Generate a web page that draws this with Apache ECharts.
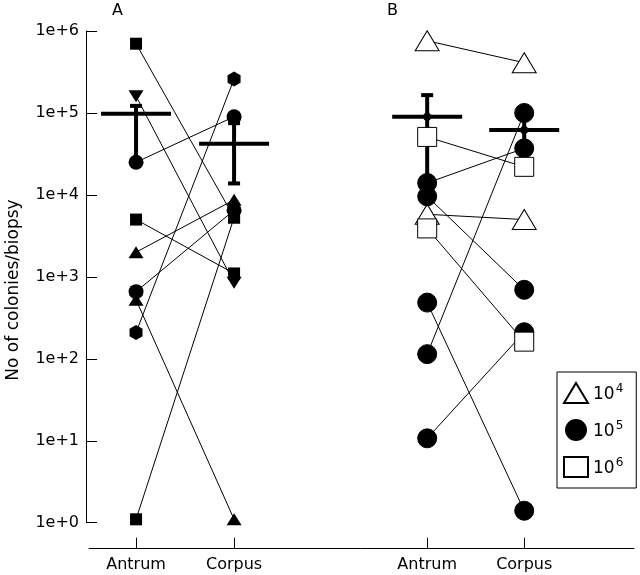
<!DOCTYPE html>
<html><head><meta charset="utf-8">
<script src="https://cdn.jsdelivr.net/npm/echarts@6/dist/echarts.min.js"></script>
<style>html,body{margin:0;padding:0;background:#fff}#c{width:640px;height:575px}</style>
</head><body><div id="c"></div>
<script>
// ---- data ----
const siteLabels = ['Antrum', 'Corpus', 'Antrum', 'Corpus'];
const yTickValues = [1, 10, 100, 1000, 10000, 100000, 1000000];
const yTickLabels = ['1e+0', '1e+1', '1e+2', '1e+3', '1e+4', '1e+5', '1e+6'];
const panelLabels = ['A', 'B'];
const yAxisTitle = 'No of colonies/biopsy';

// Panel A: one entry per animal (antrum value, corpus value, marker shape)
const panelAShape  = ['square', 'triangleDown', 'circle', 'square', 'triangle', 'circle', 'triangle', 'hexagon', 'square'];
const panelAAntrum = [700000, 160000, 25000, 5000, 2000, 660, 525, 210, 1.1];
const panelACorpus = [5300, 850, 90000, 1100, 8700, 6500, 1.1, 260000, 5300];
// mean, lower, upper
const panelAMeanAntrum = [98000, 26000, 122000];
const panelAMeanCorpus = [42000, 13800, 75000];

// Panel B: inoculum dose groups
const doseNames = ['10^4', '10^5', '10^6'];
const panelBDose   = ['10^4', '10^6', '10^5', '10^5', '10^4', '10^6', '10^5', '10^5', '10^5'];
const panelBAntrum = [760000, 51000, 14000, 9600, 5800, 3900, 485, 114, 10.7];
const panelBCorpus = [410000, 22000, 37000, 695, 5000, 162, 1.4, 100000, 211];
const panelBMeanAntrum = [90000, 14500, 165000];
const panelBMeanCorpus = [62000, 39000, 96000];

// ---- layout (positions on the x scale) ----
const xPos = [1, 2, 3.97, 4.96];
const FONT = 'DejaVu Sans';

const symA = {
  square: {symbol: 'rect', size: 12, rot: 0},
  circle: {symbol: 'circle', size: 15, rot: 0},
  triangle: {symbol: 'triangle', size: [15, 12], rot: 0},
  triangleDown: {symbol: 'triangle', size: [15, 12], rot: 180},
  hexagon: {symbol: 'path://M0,-1 L0.866,-0.5 L0.866,0.5 L0,1 L-0.866,0.5 L-0.866,-0.5 Z', size: [13, 15], rot: 0}
};
const symB = {
  '10^4': {symbol: 'triangle', size: [24, 20], fill: '#fff'},
  '10^5': {symbol: 'circle', size: 19, fill: '#000'},
  '10^6': {symbol: 'rect', size: 19, fill: '#fff'}
};

const series = [];
// connecting lines
function addLines(antrum, corpus, x0, x1) {
  antrum.forEach((v, i) => {
    series.push({
      type: 'line', data: [[x0, v], [x1, corpus[i]]], symbol: 'none', silent: true,
      lineStyle: {color: '#000', width: 1}, z: 1, animation: false
    });
  });
}
addLines(panelAAntrum, panelACorpus, xPos[0], xPos[1]);
addLines(panelBAntrum, panelBCorpus, xPos[2], xPos[3]);

// mean and error bars
const meanData = [
  [xPos[0]].concat(panelAMeanAntrum),
  [xPos[1]].concat(panelAMeanCorpus),
  [xPos[2]].concat(panelBMeanAntrum),
  [xPos[3]].concat(panelBMeanCorpus)
];
series.push({
  type: 'custom', z: 2, animation: false, silent: true,
  data: meanData,
  encode: {x: 0, y: [1, 2, 3]},
  renderItem: function (params, api) {
    const x = api.value(0);
    const pm = api.coord([x, api.value(1)]);
    const pl = api.coord([x, api.value(2)]);
    const ph = api.coord([x, api.value(3)]);
    const st = {stroke: '#000', lineWidth: 4};
    const ch = [
      {type: 'line', shape: {x1: pl[0], y1: pl[1], x2: ph[0], y2: ph[1]}, style: st},
      {type: 'line', shape: {x1: pm[0] - 35, y1: pm[1], x2: pm[0] + 35, y2: pm[1]}, style: st},
      {type: 'line', shape: {x1: ph[0] - 6, y1: ph[1], x2: ph[0] + 6, y2: ph[1]}, style: st},
      {type: 'line', shape: {x1: pl[0] - 6, y1: pl[1], x2: pl[0] + 6, y2: pl[1]}, style: st}
    ];
    if (params.dataIndex >= 2) {
      ch.push({type: 'circle', shape: {cx: pm[0], cy: pm[1], r: 4}, style: {fill: '#000'}});
    }
    return {type: 'group', children: ch};
  }
});

// panel A markers
const dataA = [];
panelAShape.forEach((s, i) => {
  const m = symA[s];
  dataA.push({value: [xPos[0], panelAAntrum[i]], symbol: m.symbol, symbolSize: m.size, symbolRotate: m.rot});
  dataA.push({value: [xPos[1], panelACorpus[i]], symbol: m.symbol, symbolSize: m.size, symbolRotate: m.rot});
});
series.push({
  type: 'scatter', name: 'A', data: dataA, z: 3, animation: false,
  itemStyle: {color: '#000', opacity: 1}
});

// panel B markers by dose
doseNames.forEach(d => {
  const pts = [];
  panelBDose.forEach((g, i) => {
    if (g === d) {
      pts.push([xPos[2], panelBAntrum[i]]);
      pts.push([xPos[3], panelBCorpus[i]]);
    }
  });
  series.push({
    type: 'scatter', name: d, data: pts, z: 3, animation: false,
    symbol: symB[d].symbol, symbolSize: symB[d].size,
    itemStyle: {color: symB[d].fill, borderColor: '#000', borderWidth: 1, opacity: 1}
  });
});

const chart = echarts.init(document.getElementById('c'), null, {renderer: 'canvas'});
chart.setOption({
  backgroundColor: '#fff',
  animation: false,
  textStyle: {fontFamily: FONT},
  grid: {left: 89, right: 6, top: 31, bottom: 52.3},
  xAxis: {
    type: 'value', min: 0.52, max: 6.08, offset: 26,
    splitLine: {show: false},
    axisLine: {show: true, lineStyle: {color: '#000', width: 1}},
    axisTick: {show: true, inside: true, length: 11, customValues: xPos, lineStyle: {color: '#000'}},
    axisLabel: {
      customValues: xPos, margin: 8, color: '#000', fontSize: 16, fontFamily: FONT,
      formatter: v => siteLabels[xPos.indexOf(v)] || ''
    }
  },
  yAxis: {
    type: 'log', logBase: 10, min: 1, max: 1000000, offset: 3,
    splitLine: {show: false},
    axisLine: {show: true, lineStyle: {color: '#000', width: 1}},
    axisTick: {show: true, inside: true, length: 11, lineStyle: {color: '#000'}},
    axisLabel: {
      margin: 7, color: '#000', fontSize: 16, fontFamily: FONT,
      formatter: v => {
        const k = yTickValues.findIndex(t => Math.abs(Math.log10(t) - Math.log10(v)) < 1e-6);
        return k >= 0 ? yTickLabels[k] : '';
      }
    }
  },
  legend: {
    data: doseNames, orient: 'vertical', left: 557, top: 372,
    itemWidth: 24, itemHeight: 20, itemGap: 15,
    padding: [10, 13, 10, 6],
    borderColor: '#000', borderWidth: 1, backgroundColor: '#fff',
    selectedMode: false,
    formatter: n => '{b|10}{s|' + n.split('^')[1] + '}',
    textStyle: {
      color: '#000', fontFamily: FONT, lineHeight: 20,
      rich: {
        b: {fontSize: 17, fontFamily: FONT, color: '#000', lineHeight: 20, verticalAlign: 'bottom'},
        s: {fontSize: 12, fontFamily: FONT, color: '#000', lineHeight: 20, verticalAlign: 'top', padding: [0, 0, 0, 1]}
      }
    }
  },
  graphic: [
    {type: 'text', left: 112, top: 3, style: {text: panelLabels[0], font: '16px "DejaVu Sans"', fill: '#000'}},
    {type: 'text', left: 387, top: 3, style: {text: panelLabels[1], font: '16px "DejaVu Sans"', fill: '#000'}},
    {type: 'text', x: 14, y: 290, rotation: Math.PI / 2,
     style: {text: yAxisTitle, font: '17px "DejaVu Sans"', fill: '#000', align: 'center', verticalAlign: 'middle'}}
  ],
  series: series
});
</script>
</body></html>
